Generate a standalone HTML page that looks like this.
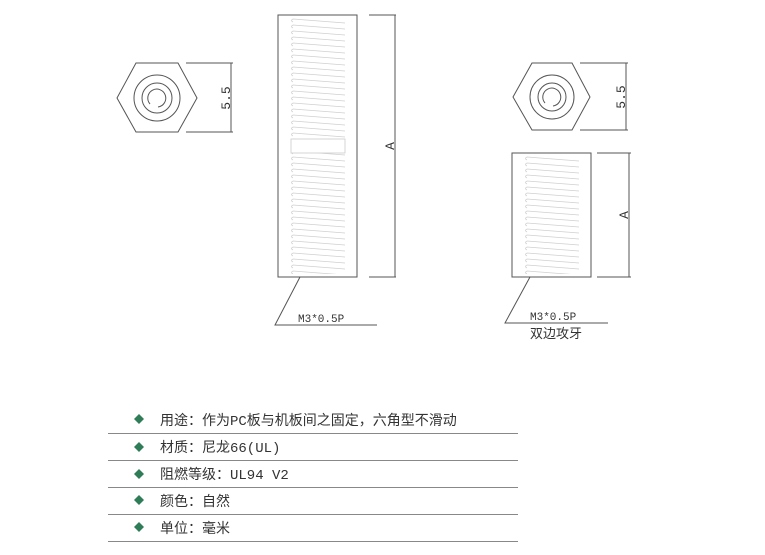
<!DOCTYPE html>
<html><head><meta charset="utf-8"><style>
body{margin:0;background:#fff;width:765px;height:555px;overflow:hidden;font-family:"Liberation Sans","Noto Sans CJK SC",sans-serif}
</style></head><body>
<svg width="765" height="555" xmlns="http://www.w3.org/2000/svg" style="position:absolute;left:0;top:0">
<defs>
<pattern id="t1" x="290" y="18" width="58" height="6" patternUnits="userSpaceOnUse">
<path d="M3,1 L55,5 M3,1 Q0,2.5 3,4" fill="none" stroke="#d0d0d0" stroke-width="0.8"/>
</pattern>
<pattern id="t2" x="524" y="156" width="58" height="6" patternUnits="userSpaceOnUse">
<path d="M3,1 L55,5 M3,1 Q0,2.5 3,4" fill="none" stroke="#d0d0d0" stroke-width="0.8"/>
</pattern>
</defs>
<rect x="290" y="18" width="58" height="256" fill="url(#t1)"/>
<rect x="291" y="139" width="54" height="14" fill="#fff" stroke="#ccc" stroke-width="0.8"/>
<rect x="524" y="156" width="58" height="118" fill="url(#t2)"/>
<g fill="none" stroke="#555" stroke-width="1">
<polygon points="117,98 136,63 178,63 197,98 178,132 136,132"/>
<circle cx="157" cy="98" r="23"/>
<circle cx="157" cy="98" r="15"/>
<path d="M150,104 A9,9 0 1 1 158,107" />
<path d="M186,63 H233 M186,132 H233 M231,63 V132"/>
<rect x="278" y="15" width="79" height="262"/>
<path d="M369,15 H396 M369,277 H396 M395,15 V277"/>
<path d="M300,277 L275,325 H377"/>
<polygon points="513,97 532,63 572,63 590,97 572,130 532,130"/>
<circle cx="552" cy="97" r="22"/>
<circle cx="552" cy="97" r="14"/>
<path d="M545,103 A9,9 0 1 1 553,106"/>
<path d="M580,63 H628 M580,130 H628 M626,63 V130"/>
<rect x="512" y="153" width="79" height="124"/>
<path d="M597,153 H631 M597,277 H631 M629,153 V277"/>
<path d="M530,277 L505,323 H608"/>
</g>
<g fill="#333" font-family="Liberation Mono,monospace" font-size="11">
<text x="0" y="0" transform="translate(230,98) rotate(-90)" text-anchor="middle" font-size="13">5.5</text>
<text x="0" y="0" transform="translate(394,146) rotate(-90)" text-anchor="middle" font-size="13">A</text>
<text x="298" y="322">M3*0.5P</text>
<text x="0" y="0" transform="translate(625,97) rotate(-90)" text-anchor="middle" font-size="13">5.5</text>
<text x="0" y="0" transform="translate(628,215) rotate(-90)" text-anchor="middle" font-size="13">A</text>
<text x="530" y="320">M3*0.5P</text>
</g>
<text x="530" y="338" font-size="13" fill="#333" font-family="Liberation Sans,Noto Sans CJK SC,sans-serif">双边攻牙</text>
<g stroke="#888" stroke-width="1">
<path d="M108,433.5 H518 M108,460.5 H518 M108,487.5 H518 M108,514.5 H518 M108,541.5 H518"/>
</g>
<g fill="#2e7d57">
<path d="M139,414 L144,419 L139,424 L134,419Z"/>
<path d="M139,442 L144,447 L139,452 L134,447Z"/>
<path d="M139,469 L144,474 L139,479 L134,474Z"/>
<path d="M139,495 L144,500 L139,505 L134,500Z"/>
<path d="M139,522 L144,527 L139,532 L134,527Z"/>
</g>
<g fill="#333" font-size="14" font-family="Liberation Mono,Noto Sans CJK SC,monospace">
<text x="160" y="425">用途：作为PC板与机板间之固定，六角型不滑动</text>
<text x="160" y="452">材质：尼龙66(UL)</text>
<text x="160" y="479">阻燃等级：UL94 V2</text>
<text x="160" y="506">颜色：自然</text>
<text x="160" y="533">单位：毫米</text>
</g>
</svg>
</body></html>
